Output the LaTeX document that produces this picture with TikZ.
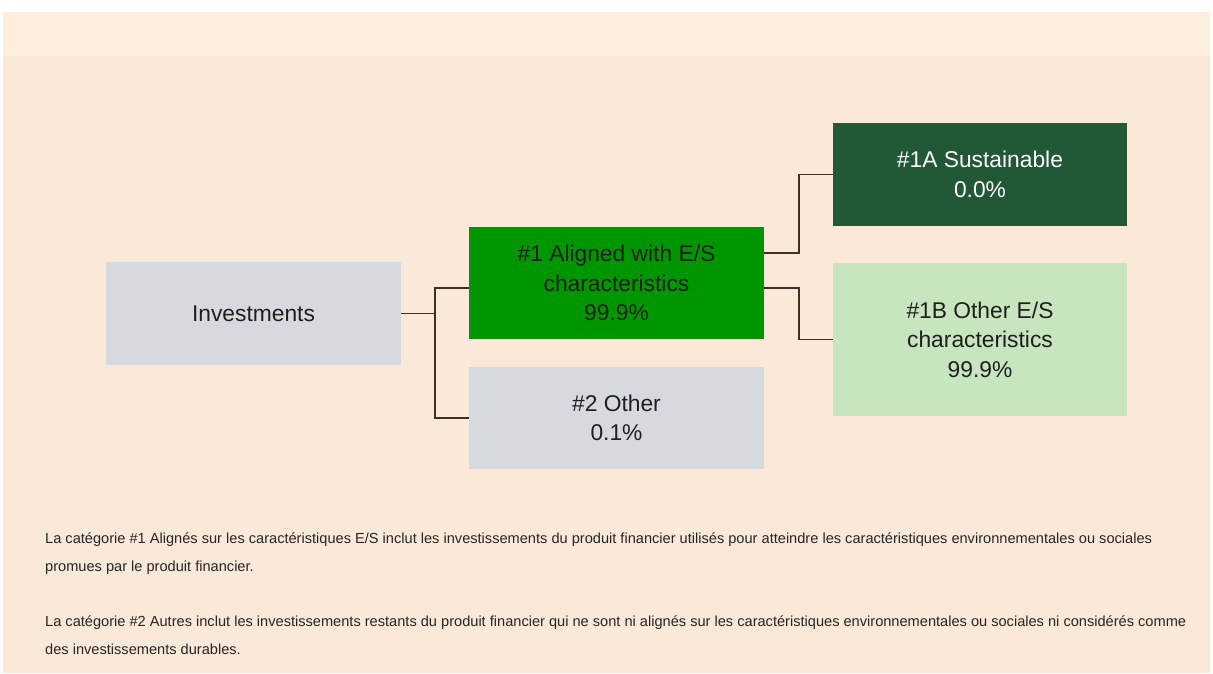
\documentclass[tikz,border=0pt]{standalone}
\usepackage{fontspec}
\setmainfont{Liberation Sans}
\usetikzlibrary{positioning}

\definecolor{pagebg}{RGB}{250,232,216}
\definecolor{bandbg}{RGB}{254,238,222}
\definecolor{greybox}{RGB}{214,217,222}
\definecolor{alignedgreen}{RGB}{0,150,0}
\definecolor{darkgreen}{RGB}{33,88,54}
\definecolor{lightgreen}{RGB}{199,229,191}
\definecolor{linkcol}{RGB}{58,48,40}
\definecolor{notecol}{RGB}{38,38,38}

\tikzset{
  box/.style={minimum width=295pt, inner sep=0pt, align=center,
    text=black!88, font=\fontsize{22.8}{29.5}\selectfont},
  link/.style={draw=linkcol, line width=1.5pt},
  note/.style={anchor=north west, inner sep=0pt, align=left, text=notecol,
    font=\fontsize{14.6}{28}\selectfont}
}

\begin{document}
\begin{tikzpicture}[x=1pt,y=-1pt]
\useasboundingbox (0,0) rectangle (1213,673);
% page background
\fill[white] (0,0) rectangle (1213,673);
\fill[pagebg] (3,12) rectangle (1210,673);
\fill[bandbg] (3,12) rectangle (1210,56);

% boxes
\node[box, fill=greybox, minimum height=103pt] (inv) at (253.5,313.5) {Investments};
\node[box, fill=alignedgreen, minimum height=112pt] (aligned) at (616.5,283) {\#1 Aligned with E/S\\characteristics\\99.9\%};
\node[box, fill=greybox, minimum height=102pt] (other) at (616.5,418) {\#2 Other\\0.1\%};
\node[box, fill=darkgreen, text=white, minimum width=294pt, minimum height=103pt] (sust) at (980,174.5) {\#1A Sustainable\\0.0\%};
\node[box, fill=lightgreen, minimum width=294pt, minimum height=153pt] (otheres) at (980,339.5) {\#1B Other E/S\\characteristics\\99.9\%};

% connectors
\draw[link] (inv.east) -- ++(34,0) coordinate (fork);
\draw[link] (fork) |- ([yshift=-5pt]aligned.west);
\draw[link] (fork) |- (other.west);
\draw[link] ([yshift=30pt]aligned.east) -- ++(35,0) |- (sust.west);
\draw[link] ([yshift=-5pt]aligned.east) -- ++(35,0) |- (otheres.west);

% notes
\node[note] (note1) at (45,533) {La catégorie \#1 Alignés sur les caractéristiques E/S inclut les investissements du produit financier utilisés pour atteindre les caractéristiques environnementales ou sociales\\promues par le produit financier.};
\node[note] (note2) at (45,616) {La catégorie \#2 Autres inclut les investissements restants du produit financier qui ne sont ni alignés sur les caractéristiques environnementales ou sociales ni considérés comme\\des investissements durables.};
\end{tikzpicture}
\end{document}
